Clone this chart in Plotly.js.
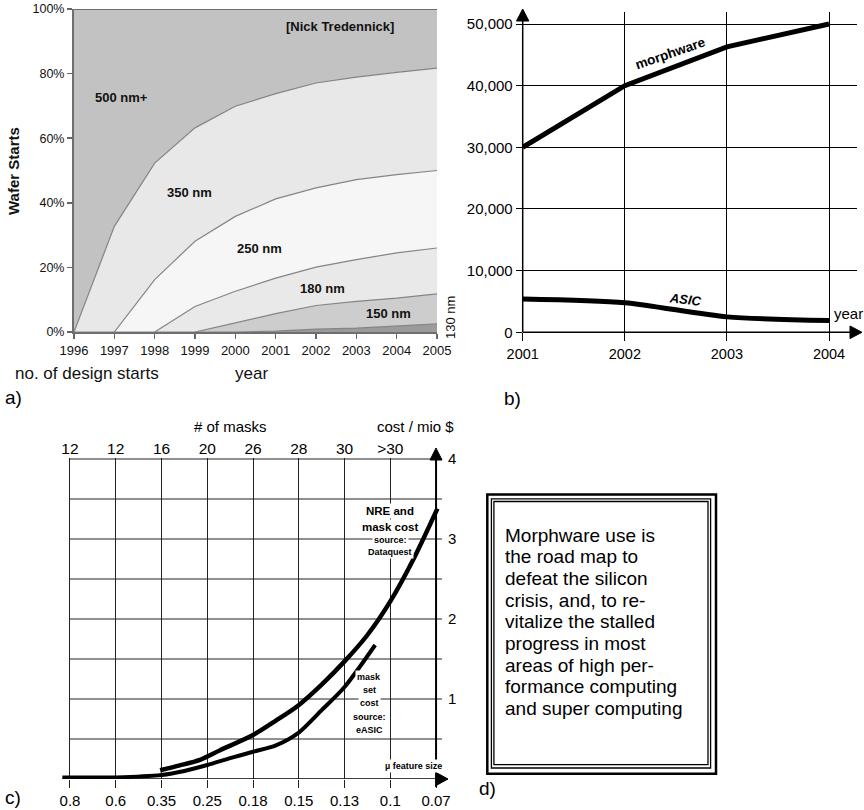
<!DOCTYPE html>
<html><head><meta charset="utf-8">
<script src="https://cdn.plot.ly/plotly-3.0.1.min.js"></script>
<style>html,body{margin:0;padding:0;background:#fff}#chart{width:864px;height:810px}</style>
</head><body><div id="chart"></div>
<script>
// ---------- Panel a: wafer starts by feature size (cumulative tops, %) ----------
const aYears  = [1996,1997,1998,1999,2000,2001,2002,2003,2004,2005];
const aTop130 = [0,0,0,0,0,0.3,0.9,1.2,1.8,2.5];
const aTop150 = [0,0,0,0,2.8,5.7,8.2,9.5,10.5,11.8];
const aTop180 = [0,0,0,7.9,12.6,16.7,20.1,22.4,24.5,26.0];
const aTop250 = [0,0,16.2,28.1,35.8,41.2,44.6,47.2,48.7,50.0];
const aTop350 = [0,32.7,52.3,63.2,69.9,73.8,77.1,78.9,80.4,81.7];
const aTop500 = [100,100,100,100,100,100,100,100,100,100];
const aLayerNames = ['130 nm','150 nm','180 nm','250 nm','350 nm','500 nm+'];
const aYTicks = [0,20,40,60,80,100];

// ---------- Panel b: design starts ----------
const bYears = [2001,2002,2003,2004];
const bMorphware = [30000,40000,46300,50000];
const bAsic = [5400,4800,2500,1900];
const bYTicks = [0,10000,20000,30000,40000,50000];

// ---------- Panel c: cost vs feature size ----------
const cFeature = ['0.8','0.6','0.35','0.25','0.18','0.15','0.13','0.1','0.07'];
const cMasks = ['12','12','16','20','26','28','30','>30'];
const cCostTicks = [1,2,3,4];
const cNreIdx  = [1.97,2.4,2.84,3.28,4.0,4.5,4.99,5.5,6.0,6.5,7.0,7.5,8.03];
const cNreCost = [0.11,0.17,0.24,0.36,0.55,0.73,0.92,1.18,1.47,1.8,2.22,2.74,3.38];
const cMaskIdx  = [-0.17,0,1,2,2.5,3,3.5,4,4.5,5,5.5,6,6.67];
const cMaskCost = [0.02,0.02,0.02,0.05,0.1,0.175,0.26,0.34,0.42,0.58,0.86,1.15,1.675];

// ---------- Panel d text ----------
const dLines = ['Morphware use is','the road map to','defeat the silicon','crisis, and, to re-',
  'vitalize the stalled','progress in most','areas of high per-','formance computing','and super computing'];

const W = 864, H = 810;
const px = x => x / W, py = y => 1 - y / H;
const FONT = 'Liberation Sans, Arial, Helvetica, sans-serif';

const traces = [];
const aTops = [aTop130,aTop150,aTop180,aTop250,aTop350,aTop500];
const aFills = ['#9b9b9b','#cdcdcd','#e9e9e9','#f6f6f6','#e8e8e8','#c2c2c2'];
aTops.forEach((t,i) => traces.push({
  x: aYears, y: t, name: aLayerNames[i], type: 'scatter', mode: 'lines',
  fill: i === 0 ? 'tozeroy' : 'tonexty', fillcolor: aFills[i],
  line: {color: i === 5 ? '#6e6e6e' : '#858585', width: i === 5 ? 2 : 1.2},
  xaxis: 'x', yaxis: 'y', hoverinfo: 'skip', showlegend: false
}));
traces.push({x: bYears, y: bMorphware, type: 'scatter', mode: 'lines', line: {color: '#000', width: 5},
  xaxis: 'x2', yaxis: 'y2', showlegend: false});
traces.push({x: bYears, y: bAsic, type: 'scatter', mode: 'lines', line: {color: '#000', width: 5, shape: 'spline', smoothing: 0.7},
  xaxis: 'x2', yaxis: 'y2', showlegend: false});
traces.push({x: cMaskIdx, y: cMaskCost, type: 'scatter', mode: 'lines', line: {color: '#000', width: 4, shape: 'spline', smoothing: 0.8},
  xaxis: 'x3', yaxis: 'y3', showlegend: false});
traces.push({x: cNreIdx, y: cNreCost, type: 'scatter', mode: 'lines', line: {color: '#000', width: 4.5, shape: 'spline', smoothing: 0.8},
  xaxis: 'x3', yaxis: 'y3', showlegend: false});
traces.push({x: [0], y: [0], type: 'scatter', mode: 'markers', marker: {opacity: 0}, xaxis: 'x4', yaxis: 'y3', showlegend: false, hoverinfo: 'skip'});

const annotations = [];
function A(x, y, text, o) {
  o = o || {};
  annotations.push(Object.assign({xref: 'paper', yref: 'paper', x: px(x), y: py(y), text: text, showarrow: false,
    xanchor: 'center', yanchor: 'middle', font: {family: FONT, size: 13, color: '#000'}}, o));
}
const bf = (s, c) => ({family: FONT, size: s, color: c || '#111'});
// panel a texts
A(340, 27, '<b>[Nick Tredennick]</b>', {font: bf(13)});
A(122, 97, '<b>500 nm+</b>', {font: bf(13)});
A(189, 192, '<b>350 nm</b>', {font: bf(13)});
A(259, 248, '<b>250 nm</b>', {font: bf(13)});
A(322, 289, '<b>180 nm</b>', {font: bf(13)});
A(388, 313, '<b>150 nm</b>', {font: bf(13)});
A(450, 318, '130 nm', {textangle: -90, font: bf(13)});
A(13, 171, '<b>Wafer Starts</b>', {textangle: -90, font: bf(15)});
A(87, 374, 'no. of design starts', {font: bf(17)});
A(251, 374, 'year', {font: bf(17)});
A(13, 397, 'a)', {font: bf(19, '#000')});
// panel b texts
A(670, 54, '<b>morphware</b>', {textangle: -19, font: bf(13.5, '#000')});
A(685, 299, '<b><i>ASIC</i></b>', {textangle: 7, font: bf(13, '#000')});
A(848, 313, 'year', {font: bf(15, '#000')});
A(512, 398, 'b)', {font: bf(19, '#000')});
// panel c texts
A(230, 426, '# of masks', {font: bf(15, '#000')});
A(415, 426, 'cost / mio $', {font: bf(15, '#000')});
A(390, 511, '<b>NRE and</b>', {bgcolor: '#fff', font: bf(11.5, '#000')});
A(390, 527, '<b>mask cost</b>', {bgcolor: '#fff', font: bf(11.5, '#000')});
A(390, 540, '<b>source:</b>', {bgcolor: '#fff', font: bf(9, '#000')});
A(390, 552, '<b>Dataquest</b>', {bgcolor: '#fff', font: bf(9, '#000')});
const maskLbl = ['mask','set','cost','source:','eASIC'];
maskLbl.forEach((t,i) => A(369, 677 + i*13.2, '<b>'+t+'</b>', {bgcolor: '#fff', font: bf(9, '#000')}));
A(413, 766, '<b>µ feature size</b>', {bgcolor: '#fff', font: bf(9, '#000')});
A(13, 797, 'c)', {font: bf(19, '#000')});
// panel d
dLines.forEach((t,i) => A(503, 535 + i*21.67, t, {xanchor: 'left', font: bf(19, '#000')}));
A(487, 788, 'd)', {font: bf(19, '#000')});

const shapes = [];
function P(path, o) { shapes.push(Object.assign({type: 'path', xref: 'paper', yref: 'paper', path: path,
  line: {color: '#000', width: 1}, fillcolor: '#000', layer: 'above'}, o || {})); }
function pt(x, y) { return px(x) + ',' + py(y); }
function tri(a, b, c) { return 'M' + pt(a[0],a[1]) + ' L' + pt(b[0],b[1]) + ' L' + pt(c[0],c[1]) + ' Z'; }
function L(x0,y0,x1,y1,w,col) { shapes.push({type: 'line', xref: 'paper', yref: 'paper', x0: px(x0), y0: py(y0), x1: px(x1), y1: py(y1),
  line: {color: col || '#000', width: w || 1}, layer: 'above'}); }
// panel b axes + arrows
L(522.7, 332.3, 852, 332.3, 1.5);
L(522.7, 332.3, 522.7, 20, 1.5);
P(tri([522.7,9],[516.5,21],[528.9,21]));
P(tri([862,332.3],[850,326],[850,338.6]));
// panel c horizontal grid lines
[0.5,1,1.5,2,2.5,3,3.5,4].forEach(v => shapes.push({type: 'line', xref: 'x3', yref: 'y3', x0: 0, x1: 8.13, y0: v, y1: v,
  line: {color: '#222', width: 1}, layer: 'below'}));
shapes.push({type: 'line', xref: 'x3', yref: 'y3', x0: -0.17, x1: 8.15, y0: 0, y1: 0, line: {color: '#000', width: 1.5}, layer: 'above'});
shapes.push({type: 'line', xref: 'x3', yref: 'paper', x0: 8, x1: 8, y0: py(787), y1: py(458), line: {color: '#000', width: 2}, layer: 'above'});
P(tri([436,448],[430,460],[442,460]));
P(tri([448,779],[437,773],[437,785]));
// panel d frame
shapes.push({type: 'rect', xref: 'paper', yref: 'paper', x0: px(487.3), x1: px(716), y0: py(773.8), y1: py(494.5), line: {color: '#000', width: 2.5}});
shapes.push({type: 'rect', xref: 'paper', yref: 'paper', x0: px(491.4), x1: px(710.6), y0: py(768), y1: py(498.8), line: {color: '#000', width: 1.3}});
shapes.push({type: 'rect', xref: 'paper', yref: 'paper', x0: px(493.9), x1: px(708), y0: py(764.7), y1: py(501.5), line: {color: '#000', width: 1.3}});

const layout = {
  width: W, height: H, margin: {l: 0, r: 0, t: 0, b: 0}, paper_bgcolor: '#fff', plot_bgcolor: 'rgba(0,0,0,0)',
  showlegend: false, font: {family: FONT, color: '#000'},
  xaxis: {domain: [px(74), px(437)], range: [1996, 2005], tickvals: aYears, ticktext: aYears.map(String),
    ticks: 'outside', ticklen: 5, tickcolor: '#666', tickwidth: 1.5, showgrid: false, zeroline: false,
    showline: true, linecolor: '#6e6e6e', linewidth: 2, anchor: 'y', tickfont: {size: 13, color: '#111'}, fixedrange: true},
  yaxis: {domain: [py(332), py(9)], range: [0, 100], tickvals: aYTicks, ticktext: aYTicks.map(v => v + '%'),
    ticks: 'outside', ticklen: 5, tickcolor: '#666', tickwidth: 1.5, showgrid: false, zeroline: false,
    showline: true, linecolor: '#6e6e6e', linewidth: 2, anchor: 'x', tickfont: {size: 12.5, color: '#111'}, fixedrange: true},
  xaxis2: {domain: [px(522.7), px(857)], range: [2001, 2004.274], tickvals: bYears, ticktext: bYears.map(String),
    ticks: 'outside', ticklen: 8, tickcolor: '#000', showgrid: true, gridcolor: '#000', gridwidth: 1, zeroline: false,
    showline: false, anchor: 'y2', tickfont: {size: 14.5}, fixedrange: true},
  yaxis2: {domain: [py(332.3), py(12)], range: [0, 51946], tickvals: bYTicks, ticktext: bYTicks.map(v => v.toLocaleString('en-US')),
    ticks: 'outside', ticklen: 6, tickcolor: '#000', showgrid: true, gridcolor: '#000', gridwidth: 1, zeroline: false,
    showline: false, anchor: 'x2', tickfont: {size: 15}, fixedrange: true},
  xaxis3: {domain: [px(62.2), px(442)], range: [-0.17, 8.13], tickvals: cFeature.map((_, i) => i), ticktext: cFeature,
    ticks: 'outside', ticklen: 8, tickcolor: '#222', showgrid: true, gridcolor: '#222', gridwidth: 1, zeroline: false,
    showline: false, anchor: 'y3', tickfont: {size: 15}, fixedrange: true},
  xaxis4: {domain: [px(62.2), px(442)], range: [-0.17, 8.13], overlaying: 'x3', side: 'top', anchor: 'y3',
    tickvals: cMasks.map((_, i) => i), ticktext: cMasks, ticks: '', showgrid: false, zeroline: false, showline: false,
    tickfont: {size: 15.5}, fixedrange: true},
  yaxis3: {domain: [py(779), py(458)], range: [0, 4.0125], side: 'right', anchor: 'x3', tickvals: cCostTicks, ticktext: cCostTicks.map(String),
    ticks: '', ticklabelstandoff: 5, showgrid: false, zeroline: false, showline: false, tickfont: {size: 15}, fixedrange: true},
  annotations: annotations, shapes: shapes
};
Plotly.newPlot('chart', traces, layout, {displayModeBar: false, staticPlot: true});
</script></body></html>
